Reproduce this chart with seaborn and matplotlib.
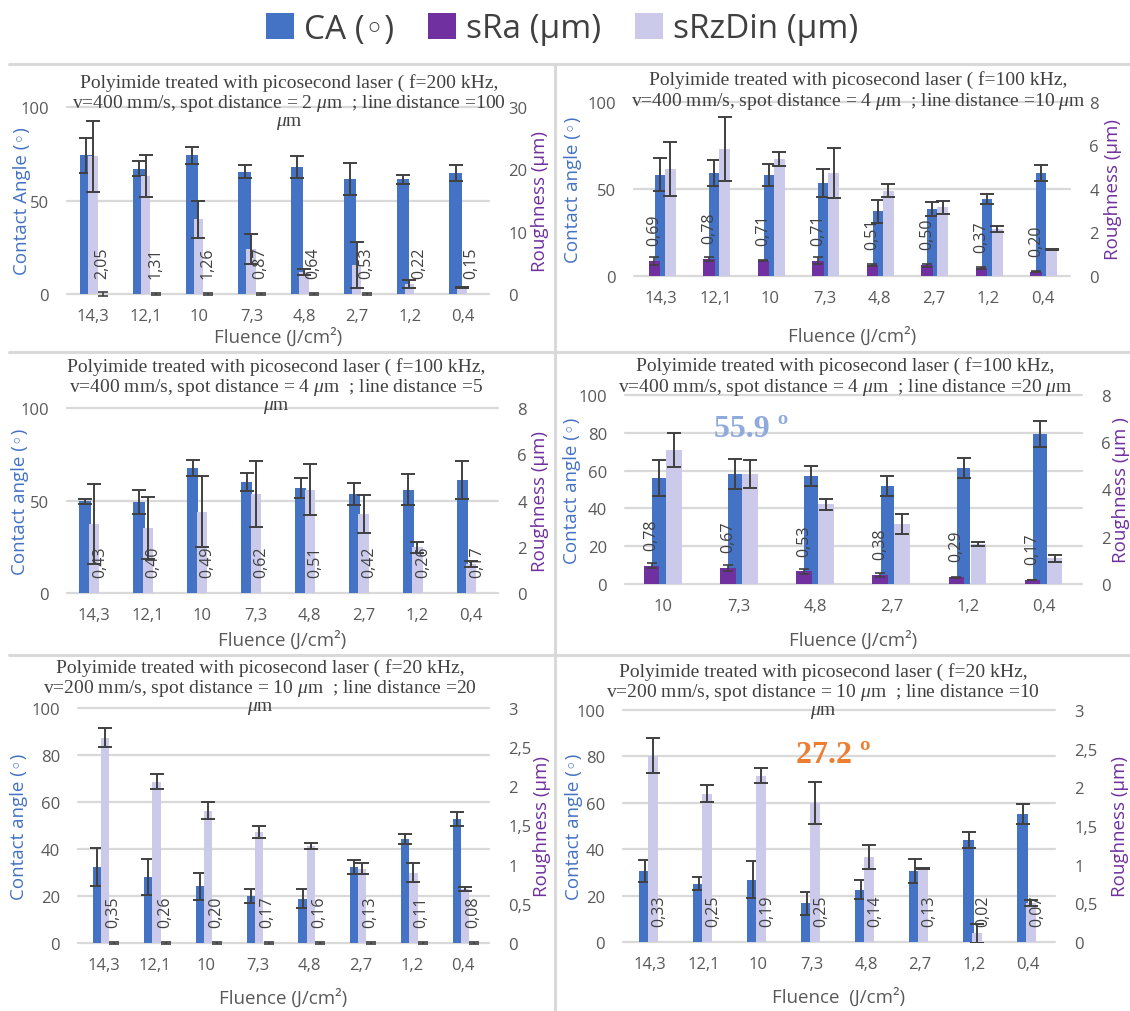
import numpy as np
import matplotlib
matplotlib.use("Agg")
import matplotlib.pyplot as plt
import seaborn as sns
from matplotlib.patches import Patch
from matplotlib.lines import Line2D

# ---------------- data ----------------
cats8 = ["14,3", "12,1", "10", "7,3", "4,8", "2,7", "1,2", "0,4"]
cats6 = ["10", "7,3", "4,8", "2,7", "1,2", "0,4"]

# Panel 1: f=200 kHz, line distance 100 um
ca1 = [74.1, 67.0, 74.1, 65.5, 67.9, 61.6, 61.3, 64.6]
ca1_err = [9.2, 4.0, 4.5, 3.5, 5.8, 8.5, 2.5, 4.3]
srz1 = [22.1, 18.9, 12.0, 7.2, 3.5, 4.6, 1.6, 1.1]
srz1_err = [5.7, 3.4, 3.0, 2.4, 0.5, 3.7, 0.6, 0.1]
sra1 = [0, 0, 0, 0, 0, 0, 0, 0]
sra1_err = [0.3, 0.1, 0.1, 0.1, 0.1, 0.1, np.nan, np.nan]
sra1_txt = ["2,05", "1,31", "1,26", "0,87", "0,64", "0,53", "0,22", "0,15"]

# Panel 2: f=100 kHz, line distance 10 um
ca2 = [58.1, 59.2, 58.1, 53.5, 37.1, 38.5, 44.2, 59.2]
ca2_err = [9.5, 7.5, 6.3, 8.2, 6.5, 3.8, 2.9, 4.6]
srz2 = [4.92, 5.85, 5.38, 4.74, 3.92, 3.15, 2.15, 1.23]
srz2_err = [1.25, 1.47, 0.32, 1.16, 0.31, 0.30, 0.13, 0.03]
sra2 = [0.69, 0.78, 0.71, 0.71, 0.51, 0.50, 0.37, 0.20]
sra2_err = [0.18, 0.10, 0.04, 0.15, 0.04, 0.07, 0.03, 0.03]
sra2_txt = ["0,69", "0,78", "0,71", "0,71", "0,51", "0,50", "0,37", "0,20"]

# Panel 3: f=100 kHz, line distance 5 um
ca3 = [49.5, 49.4, 67.6, 60.0, 56.8, 53.5, 55.9, 61.1]
ca3_err = [1.4, 6.5, 4.2, 5.0, 5.6, 6.1, 8.2, 10.4]
srz3 = [2.98, 2.81, 3.52, 4.28, 4.46, 3.42, 1.97, 1.26]
srz3_err = [1.74, 1.32, 1.52, 1.43, 1.10, 0.83, 0.22, 0.13]
sra3 = [0, 0, 0, 0, 0, 0, 0, 0]
sra3_err = [np.nan] * 8
sra3_txt = ["0,43", "0,40", "0,49", "0,62", "0,51", "0,42", "0,26", "0,17"]

# Panel 4: f=100 kHz, line distance 20 um
ca4 = [56.0, 58.1, 57.0, 51.6, 61.3, 79.2]
ca4_err = [9.6, 7.9, 5.4, 5.3, 5.3, 6.9]
srz4 = [5.66, 4.65, 3.38, 2.54, 1.69, 1.08]
srz4_err = [0.72, 0.60, 0.23, 0.42, 0.09, 0.16]
sra4 = [0.78, 0.67, 0.53, 0.38, 0.29, 0.17]
sra4_err = [0.11, 0.12, 0.10, 0.07, 0.02, 0.02]
sra4_txt = ["0,78", "0,67", "0,53", "0,38", "0,29", "0,17"]

# Panel 5: f=20 kHz, line distance 20 um
ca5 = [32.3, 28.1, 24.1, 19.9, 18.9, 32.3, 44.4, 52.9]
ca5_err = [8.2, 7.6, 5.9, 2.9, 4.2, 2.9, 2.1, 3.0]
srz5 = [2.62, 2.06, 1.69, 1.42, 1.24, 0.95, 0.90, 0.69]
srz5_err = [0.12, 0.10, 0.11, 0.075, 0.04, 0.07, 0.12, 0.03]
sra5 = [0, 0, 0, 0, 0, 0, 0, 0]
sra5_err = [0.015] * 8
sra5_txt = ["0,35", "0,26", "0,20", "0,17", "0,16", "0,13", "0,11", "0,08"]

# Panel 6: f=20 kHz, line distance 10 um
ca6 = [30.5, 25.2, 26.9, 16.6, 22.6, 30.5, 44.1, 55.3]
ca6_err = [4.7, 2.8, 8.0, 4.8, 4.0, 5.2, 3.4, 4.3]
srz6 = [2.41, 1.92, 2.15, 1.80, 1.10, 0.95, 0.11, 0.50]
srz6_err = [0.23, 0.11, 0.10, 0.27, 0.15, 0.01, 0.12, 0.04]
sra6 = [0, 0, 0, 0, 0, 0, 0, 0]
sra6_err = [np.nan] * 8
sra6_txt = ["0,33", "0,25", "0,19", "0,25", "0,14", "0,13", "0,02", "0,07"]

left_ticks_50 = [0, 50, 100]
left_ticks_20 = [0, 20, 40, 60, 80, 100]
right_ticks_30 = [0, 10, 20, 30]
right_labels_30 = ["0", "10", "20", "30"]
right_ticks_8 = [0, 2, 4, 6, 8]
right_labels_8 = ["0", "2", "4", "6", "8"]
right_ticks_3 = [0, 0.5, 1, 1.5, 2, 2.5, 3]
right_labels_3 = ["0", "0,5", "1", "1,5", "2", "2,5", "3"]

legend_labels = ["CA (\u25e6)", "sRa (\u00b5m)", "sRzDin (\u00b5m)"]

T1 = ["Polyimide treated with picosecond laser ( f=200 kHz,",
      "v=400 mm/s, spot distance = 2 $\\mu$m  ; line distance =100", "$\\mu$m"]
T2 = ["Polyimide treated with picosecond laser ( f=100 kHz,",
      "v=400 mm/s, spot distance = 4 $\\mu$m  ; line distance =10 $\\mu$m"]
T3 = ["Polyimide treated with picosecond laser ( f=100 kHz,",
      "v=400 mm/s, spot distance = 4 $\\mu$m  ; line distance =5", "$\\mu$m"]
T4 = ["Polyimide treated with picosecond laser ( f=100 kHz,",
      "v=400 mm/s, spot distance = 4 $\\mu$m  ; line distance =20 $\\mu$m"]
T5 = ["Polyimide treated with picosecond laser ( f=20 kHz,",
      "v=200 mm/s, spot distance = 10 $\\mu$m  ; line distance =20", "$\\mu$m"]
T6 = ["Polyimide treated with picosecond laser ( f=20 kHz,",
      "v=200 mm/s, spot distance = 10 $\\mu$m  ; line distance =10", "$\\mu$m"]

# ---------------- style ----------------
BLUE = "#4472C4"
PURPLE = "#7030A0"
LAV = "#CBCAEA"
ERR = "#404040"
GRID = "#D9D9D9"
TICK = "#595959"
TITLE = "#404040"

sns.set_theme(style="white")
plt.rcParams["font.family"] = ["Open Sans", "DejaVu Sans"]
plt.rcParams["mathtext.fontset"] = "custom"
plt.rcParams["mathtext.rm"] = "Liberation Serif"
plt.rcParams["mathtext.it"] = "Liberation Serif:italic"

W, H = 1130, 1012
fig = plt.figure(figsize=(W / 100, H / 100), dpi=100)
fig.patch.set_facecolor("white")


def px_rect(l, t, r, b):
    return [l / W, 1 - b / H, (r - l) / W, (b - t) / H]


PANELS = [
    dict(rect=(67, 108, 489, 295), cats=cats8, ca=ca1, ca_err=ca1_err, srz=srz1, srz_err=srz1_err,
         sra=sra1, sra_err=sra1_err, txt=sra1_txt, rmax=30, rt=right_ticks_30, rl=right_labels_30,
         lt=left_ticks_50, ylab="Contact Angle (\u25e6)", rlab="Roughness (\u00b5m)",
         xlab="Fluence (J/cm\u00b2)", off=(-0.135, -0.01, 0.18), wid=(0.23, 0.18, 0.18),
         lab_off=0.17, ylx=22, rlx=540, xly=337, title=T1, tx=289, ty=81),
    dict(rect=(634, 103, 1070, 277), cats=cats8, ca=ca2, ca_err=ca2_err, srz=srz2, srz_err=srz2_err,
         sra=sra2, sra_err=sra2_err, txt=sra2_txt, rmax=8, rt=right_ticks_8, rl=right_labels_8,
         lt=left_ticks_50, ylab="Contact angle (\u25e6)", rlab="Roughness (\u00b5m)",
         xlab="Fluence (J/cm\u00b2)", off=(-0.03, 0.165, -0.125), wid=(0.18, 0.21, 0.21),
         lab_off=-0.125, ylx=573, rlx=1113, xly=336, title=T2, tx=858, ty=78),
    dict(rect=(67, 409, 498, 594), cats=cats8, ca=ca3, ca_err=ca3_err, srz=srz3, srz_err=srz3_err,
         sra=sra3, sra_err=sra3_err, txt=sra3_txt, rmax=8, rt=right_ticks_8, rl=right_labels_8,
         lt=left_ticks_50, ylab="Contact angle (\u25e6)", rlab="Roughness (\u00b5m)",
         xlab="Fluence (J/cm\u00b2)", off=(-0.165, 0.005, 0.15), wid=(0.21, 0.19, 0.18),
         lab_off=0.11, ylx=20, rlx=540, xly=640, title=T3, tx=276, ty=365),
    dict(rect=(625, 396, 1082, 585), cats=cats6, ca=ca4, ca_err=ca4_err, srz=srz4, srz_err=srz4_err,
         sra=sra4, sra_err=sra4_err, txt=sra4_txt, rmax=8, rt=right_ticks_8, rl=right_labels_8,
         lt=left_ticks_20, ylab="Contact angle (\u25e6)", rlab="Roughness (\u00b5m )",
         xlab="Fluence (J/cm\u00b2)", off=(-0.055, 0.14, -0.15), wid=(0.18, 0.205, 0.205),
         lab_off=-0.15, ylx=572, rlx=1121, xly=640, title=T4, tx=845, ty=364,
         note=("55.9 \u00ba", "#8FAADC", 0.67, 78.3)),
    dict(rect=(78, 709, 489, 944), cats=cats8, ca=ca5, ca_err=ca5_err, srz=srz5, srz_err=srz5_err,
         sra=sra5, sra_err=sra5_err, txt=sra5_txt, rmax=3, rt=right_ticks_3, rl=right_labels_3,
         lt=left_ticks_20, ylab="Contact angle (\u25e6)", rlab="Roughness (\u00b5m)",
         xlab="Fluence (J/cm\u00b2)", off=(-0.13, 0.03, 0.21), wid=(0.16, 0.16, 0.16),
         lab_off=0.19, ylx=19, rlx=542, xly=998, title=T5, tx=260, ty=666),
    dict(rect=(623, 711, 1055, 943), cats=cats8, ca=ca6, ca_err=ca6_err, srz=srz6, srz_err=srz6_err,
         sra=sra6, sra_err=sra6_err, txt=sra6_txt, rmax=3, rt=right_ticks_3, rl=right_labels_3,
         lt=left_ticks_20, ylab="Contact angle (\u25e6)", rlab="Roughness (\u00b5m)",
         xlab="Fluence  (J/cm\u00b2)", off=(-0.1, 0.06, 0.2), wid=(0.2, 0.18, 0.18),
         lab_off=0.18, ylx=574, rlx=1120, xly=997, title=T6, tx=823, ty=670,
         note=("27.2 \u00ba", "#ED7D31", 2.7, 77.6)),
]

bar_kw = dict(native_scale=True, saturation=1, linewidth=0, errorbar=None)
err_kw = dict(fmt="none", ecolor=ERR, elinewidth=1.4, capsize=4.8, capthick=1.4)
TITLE_LINE = 20  # px between title lines

for P in PANELS:
    l, t, r, b = P["rect"]
    ax = fig.add_axes(px_rect(l, t, r, b))
    ax2 = ax.twinx()
    n = len(P["cats"])
    idx = np.arange(n)
    oc, oz, oa = P["off"]
    wc, wz, wa = P["wid"]

    sns.barplot(x=idx + oc, y=P["ca"], width=wc, color=BLUE, ax=ax, **bar_kw)
    sns.barplot(x=idx + oa, y=P["sra"], width=wa, color=PURPLE, ax=ax2, **bar_kw)
    sns.barplot(x=idx + oz, y=P["srz"], width=wz, color=LAV, ax=ax2, **bar_kw)

    ax.errorbar(idx + oc, P["ca"], yerr=P["ca_err"], **err_kw)
    ax2.errorbar(idx + oz, P["srz"], yerr=P["srz_err"], **err_kw)
    e = ax2.errorbar(idx + oa, P["sra"], yerr=P["sra_err"], fmt="none", ecolor=ERR,
                     elinewidth=1.2, capsize=3.5, capthick=1.2)
    for c in list(e.lines[1]) + list(e.lines[2]):
        c.set_clip_on(False)

    for i in range(n):
        ax2.annotate(P["txt"][i], xy=(idx[i] + P["lab_off"], P["sra"][i]), xytext=(0, 11.5),
                     textcoords="offset points", rotation=90, ha="center", va="bottom",
                     fontsize=11.5, color=ERR)

    ax.set_xlim(-0.5, n - 0.5)
    ax.set_ylim(0, 100)
    ax2.set_ylim(0, P["rmax"])
    ax.set_xticks(idx)
    ax.set_xticklabels(P["cats"])
    ax.set_yticks(P["lt"])
    ax.set_yticklabels([str(v) for v in P["lt"]])
    ax2.set_yticks(P["rt"])
    ax2.set_yticklabels(P["rl"])
    ax.tick_params(axis="both", length=0, labelsize=12, colors=TICK)
    ax.tick_params(axis="x", pad=10)
    ax.tick_params(axis="y", pad=13)
    ax2.tick_params(axis="y", length=0, labelsize=12, colors=TICK, pad=14)
    ax.yaxis.grid(True, color=GRID, lw=1.6)
    ax.xaxis.grid(False)
    ax2.grid(False)
    ax.set_axisbelow(True)
    for gl in ax.get_ygridlines():
        gl.set_clip_on(False)
    for s in list(ax.spines.values()) + list(ax2.spines.values()):
        s.set_visible(False)
    ax.patch.set_alpha(0)

    wpx, hpx = r - l, b - t
    ax.set_ylabel(P["ylab"], color=BLUE, fontsize=13.5)
    ax.yaxis.set_label_coords((P["ylx"] - l) / wpx, 0.5)
    ax.yaxis.label.set_va("center")
    ax2.set_ylabel(P["rlab"], color=PURPLE, fontsize=13.5)
    ax2.yaxis.set_label_coords((P["rlx"] - l) / wpx, 0.5)
    ax2.yaxis.label.set_va("center")
    ax.set_xlabel(P["xlab"], color=TICK, fontsize=13.5)
    ax.xaxis.set_label_coords(0.5, -(P["xly"] - b) / hpx)
    ax.xaxis.label.set_va("center")

    # chart title, one text per wrapped line (centre of each line given in px)
    for k, line in enumerate(P["title"]):
        yc = P["ty"] + k * TITLE_LINE
        fig.text(P["tx"] / W, 1 - yc / H, line, ha="center", va="center_baseline",
                 family="Liberation Serif", fontsize=14, color=TITLE)

    if "note" in P:
        s, col, nx, ny = P["note"]
        ax.text(nx, ny, s, color=col, fontsize=23, fontweight="bold",
                family="Liberation Serif", ha="left", va="baseline")

# separators between the charts
sep = dict(color=GRID, lw=2.2, transform=fig.transFigure)
for y in (65, 353, 656):
    fig.add_artist(Line2D([9 / W, 1], [1 - y / H, 1 - y / H], **sep))
fig.add_artist(Line2D([555 / W, 555 / W], [1 - 65 / H, 0], **sep))

handles = [Patch(facecolor=c, edgecolor="none") for c in (BLUE, PURPLE, LAV)]
fig.legend(handles, legend_labels, loc="center", bbox_to_anchor=(562 / W, 1 - 30 / H),
           ncol=3, frameon=False, fontsize=24, handlelength=0.85, handleheight=0.85,
           handletextpad=0.3, columnspacing=1.0, labelcolor="#404040")

fig.savefig("out.png", dpi=100, facecolor="white")
